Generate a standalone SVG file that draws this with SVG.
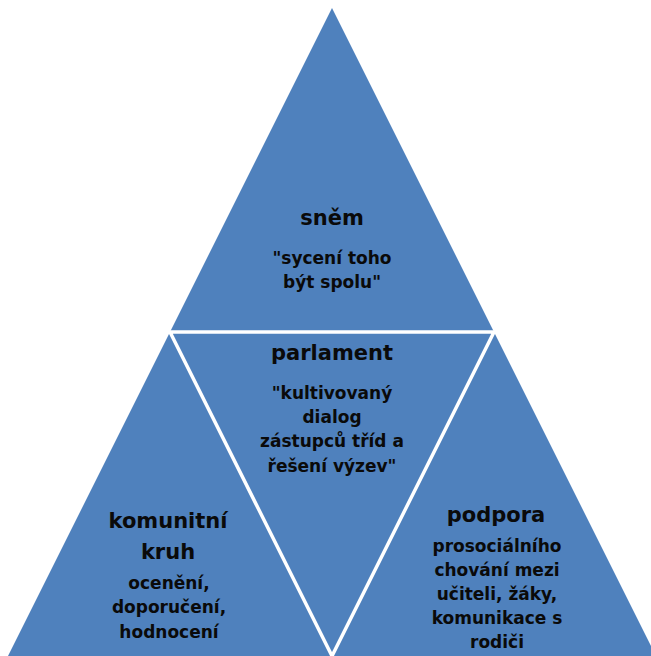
<svg xmlns="http://www.w3.org/2000/svg" width="651" height="656" viewBox="0 0 651 656">
<style>
.tri{fill:#4F81BD}
.sep{fill:none;stroke:#FFFFFF;stroke-width:3.5;stroke-linejoin:miter}
text{font-family:"DejaVu Sans","Noto Sans",sans-serif;font-weight:bold;fill:#0a0a0a;text-anchor:middle}
.t{font-size:21px}
.s{font-size:17px}
</style>
<rect width="651" height="656" fill="#FFFFFF"/>
<g id="snem">
<polygon class="tri" points="332,8 170,332 494,332"/>
<text class="t" x="332" y="225">sněm</text>
<text class="s" x="332" y="264">"sycení toho</text>
<text class="s" x="332" y="288">být spolu"</text>
</g>
<g id="komunitni-kruh">
<polygon class="tri" points="170,332 8,656 332,656"/>
<text class="t" x="168" y="528">komunitní</text>
<text class="t" x="168" y="559">kruh</text>
<text class="s" x="169" y="589">ocenění,</text>
<text class="s" x="169" y="613">doporučení,</text>
<text class="s" x="169" y="638">hodnocení</text>
</g>
<g id="podpora">
<polygon class="tri" points="494,332 332,656 656,656"/>
<text class="t" x="496" y="522">podpora</text>
<text class="s" x="497" y="552">prosociálního</text>
<text class="s" x="497" y="576">chování mezi</text>
<text class="s" x="497" y="600">učiteli, žáky,</text>
<text class="s" x="497" y="624">komunikace s</text>
<text class="s" x="497" y="648">rodiči</text>
</g>
<g id="parlament">
<polygon class="tri" points="170,332 494,332 332,656"/>
<text class="t" x="332" y="360">parlament</text>
<text class="s" x="332" y="399">"kultivovaný</text>
<text class="s" x="332" y="423">dialog</text>
<text class="s" x="332" y="447">zástupců tříd a</text>
<text class="s" x="332" y="472">řešení výzev"</text>
</g>
<g id="connectors">
<polygon class="sep" points="170,332 494,332 332,656"/>
</g>
</svg>
